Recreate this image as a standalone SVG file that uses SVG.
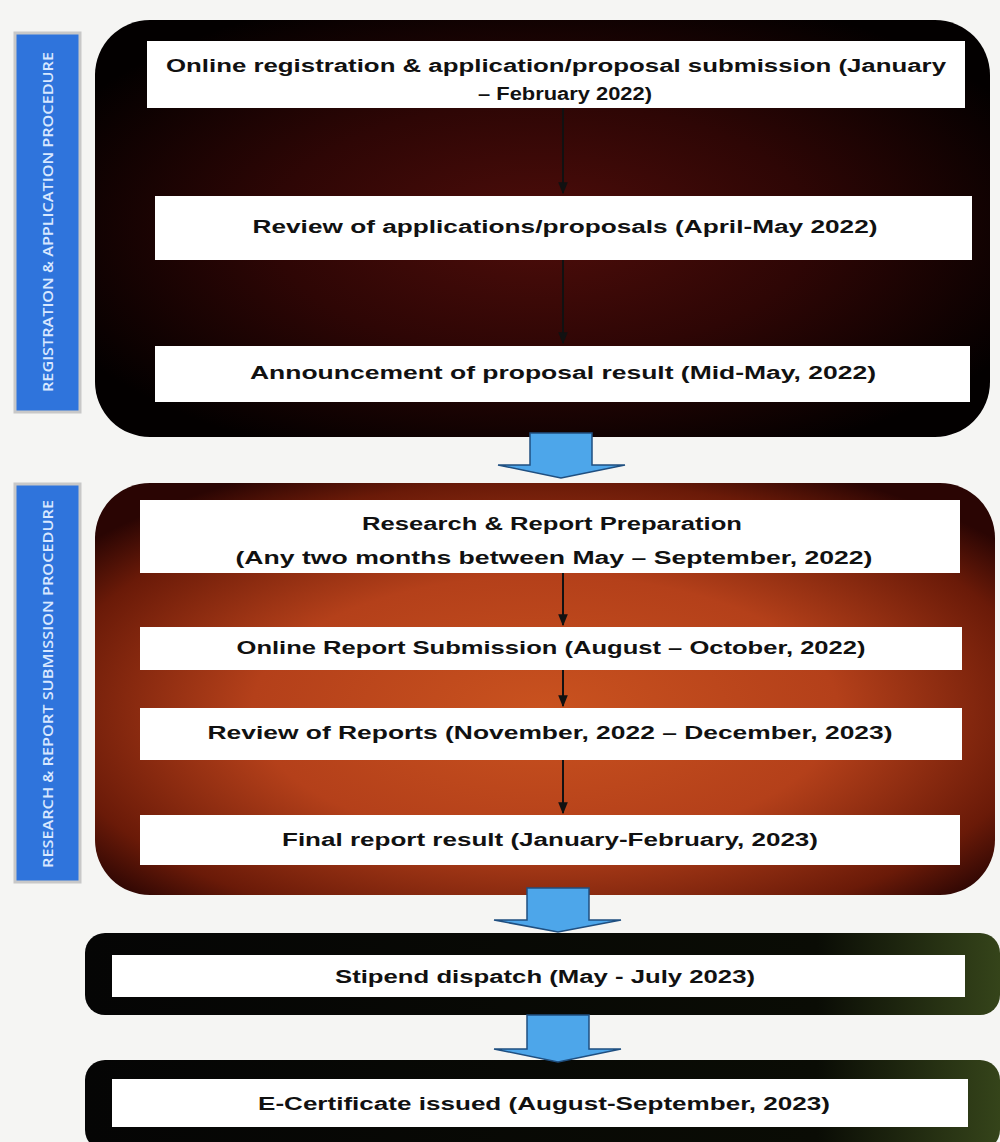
<svg xmlns="http://www.w3.org/2000/svg" width="1000" height="1142" viewBox="0 0 1000 1142">
<defs>
<radialGradient id="gTop" cx="0.5" cy="0.5" r="0.6">
<stop offset="0" stop-color="#4e0d0a"/>
<stop offset="0.5" stop-color="#2e0605"/>
<stop offset="1" stop-color="#030000"/>
</radialGradient>
<radialGradient id="gMid" cx="0.5" cy="0.55" r="0.65">
<stop offset="0" stop-color="#c9521f"/>
<stop offset="0.5" stop-color="#b4401a"/>
<stop offset="0.85" stop-color="#6a1a08"/>
<stop offset="1" stop-color="#2a0503"/>
</radialGradient>
<linearGradient id="gGreen" x1="0" y1="0" x2="1" y2="0">
<stop offset="0" stop-color="#050505"/>
<stop offset="0.8" stop-color="#0a0c05"/>
<stop offset="1" stop-color="#35441a"/>
</linearGradient>
<marker id="ah" viewBox="0 0 10 10" refX="9" refY="5" markerWidth="6" markerHeight="6" orient="auto">
<path d="M0,1 L10,5 L0,9 z" fill="#111"/>
</marker>
</defs>
<style>
.box{fill:#ffffff;}
.t{font-family:"Liberation Sans",Arial,sans-serif;font-weight:bold;font-size:18px;fill:#111;text-anchor:middle;}
.side{fill:#2f74dc;stroke:#c8c8c8;stroke-width:3;}
.st{font-family:"Open Sans","Liberation Sans",sans-serif;font-size:15px;font-weight:600;fill:#d8e8ff;text-anchor:middle;}
.conn{stroke:#111;stroke-width:2;fill:none;}
.big{fill:#4da6ea;stroke:#1f4f80;stroke-width:1.5;}
</style>
<rect x="0" y="0" width="1000" height="1142" fill="#f5f5f3"/>

<g id="label-registration">
<rect class="side" x="15" y="33" width="65" height="379"/>
<text class="st" transform="translate(53,222) rotate(-90)" textLength="340" lengthAdjust="spacingAndGlyphs">REGISTRATION &amp;  APPLICATION PROCEDURE</text>
</g>
<g id="label-research">
<rect class="side" x="15" y="484" width="65" height="398"/>
<text class="st" transform="translate(53,684) rotate(-90)" textLength="368" lengthAdjust="spacingAndGlyphs">RESEARCH &amp; REPORT SUBMISSION PROCEDURE</text>
</g>

<g id="container-registration">
<rect x="95" y="20" width="895" height="417" rx="55" fill="url(#gTop)"/>
</g>
<g id="container-research">
<rect x="95" y="483" width="900" height="412" rx="55" fill="url(#gMid)"/>
</g>
<g id="container-stipend">
<rect x="85" y="933" width="915" height="82" rx="20" fill="url(#gGreen)"/>
</g>
<g id="container-certificate">
<rect x="85" y="1060" width="915" height="90" rx="20" fill="url(#gGreen)"/>
</g>

<g id="connectors">
<line class="conn" x1="563" y1="108" x2="563" y2="193" marker-end="url(#ah)"/>
<line class="conn" x1="563" y1="260" x2="563" y2="343" marker-end="url(#ah)"/>
<line class="conn" x1="563" y1="573" x2="563" y2="625" marker-end="url(#ah)"/>
<line class="conn" x1="563" y1="670" x2="563" y2="706" marker-end="url(#ah)"/>
<line class="conn" x1="563" y1="760" x2="563" y2="813" marker-end="url(#ah)"/>
<path class="big" d="M530,433 L592,433 L592,465 L625,465 L561,478 L498,465 L530,465 Z"/>
<path class="big" d="M527,888 L589,888 L589,920 L621,920 L558,932 L494,920 L527,920 Z"/>
<path class="big" d="M527,1015 L589,1015 L589,1049 L621,1049 L558,1062 L494,1049 L527,1049 Z"/>
</g>

<g id="node-registration">
<rect class="box" x="147" y="41" width="818" height="67"/>
<text class="t" x="556" y="72" textLength="780" lengthAdjust="spacingAndGlyphs">Online registration &amp; application/proposal submission (January</text>
<text class="t" x="565" y="100" textLength="174" lengthAdjust="spacingAndGlyphs">– February 2022)</text>
</g>
<g id="node-review-applications">
<rect class="box" x="155" y="196" width="817" height="64"/>
<text class="t" x="565" y="233" textLength="625" lengthAdjust="spacingAndGlyphs">Review of applications/proposals (April-May 2022)</text>
</g>
<g id="node-announcement">
<rect class="box" x="155" y="346" width="815" height="56"/>
<text class="t" x="563" y="379" textLength="626" lengthAdjust="spacingAndGlyphs">Announcement of proposal result (Mid-May, 2022)</text>
</g>

<g id="node-research">
<rect class="box" x="140" y="500" width="820" height="73"/>
<text class="t" x="552" y="530" textLength="380" lengthAdjust="spacingAndGlyphs">Research &amp; Report Preparation</text>
<text class="t" x="554" y="564" textLength="637" lengthAdjust="spacingAndGlyphs">(Any two months between May – September, 2022)</text>
</g>
<g id="node-online-report">
<rect class="box" x="140" y="627" width="822" height="43"/>
<text class="t" x="551" y="654" textLength="629" lengthAdjust="spacingAndGlyphs">Online Report Submission (August – October, 2022)</text>
</g>
<g id="node-review-reports">
<rect class="box" x="140" y="708" width="822" height="52"/>
<text class="t" x="550" y="739" textLength="685" lengthAdjust="spacingAndGlyphs">Review of Reports (November, 2022 – December, 2023)</text>
</g>
<g id="node-final-result">
<rect class="box" x="140" y="815" width="820" height="50"/>
<text class="t" x="550" y="846" textLength="536" lengthAdjust="spacingAndGlyphs">Final report result (January-February, 2023)</text>
</g>

<g id="node-stipend">
<rect class="box" x="112" y="955" width="853" height="42"/>
<text class="t" x="545" y="983" textLength="420" lengthAdjust="spacingAndGlyphs">Stipend dispatch (May - July 2023)</text>
</g>
<g id="node-certificate">
<rect class="box" x="112" y="1079" width="856" height="48"/>
<text class="t" x="544" y="1110" textLength="572" lengthAdjust="spacingAndGlyphs">E-Certificate issued (August-September, 2023)</text>
</g>
</svg>
